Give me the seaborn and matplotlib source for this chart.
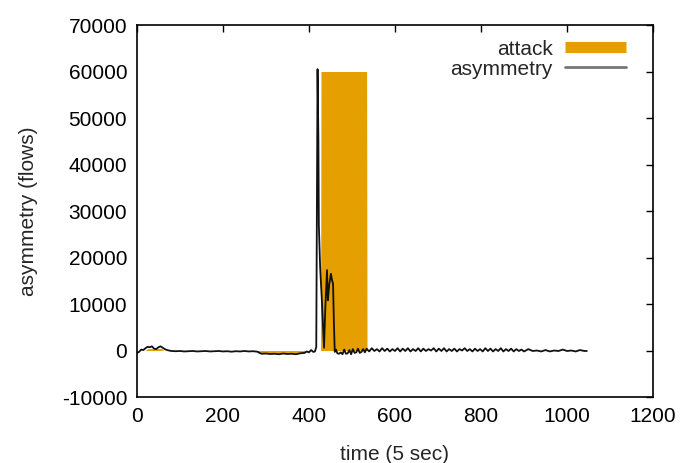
import matplotlib
matplotlib.use("Agg")
import matplotlib.pyplot as plt
from matplotlib.lines import Line2D
import seaborn as sns
import pandas as pd

# ---- data ----
attack_t = [0, 20, 25, 58, 62, 280, 282, 388, 392, 427, 428, 534, 535, 1045]
attack_v = [0, 0, 400, 400, 0, 0, -600, -600, 0, 0, 60000, 60000, 0, 0]

# asymmetry, in segments (time, value)
seg_a_t = [0, 5, 10, 15, 20, 25, 30, 35, 40, 45, 50, 55, 60, 65, 70]
seg_a_v = [-500, -300, 200, 100, 500, 800, 700, 900, 400, 300, 700, 900, 600, 300, 100]

seg_b_t = [80, 90, 100, 110, 120, 130, 140, 150, 160, 170, 180, 190, 200, 210, 220,
           230, 240, 250, 260, 270, 280]
seg_b_v = [-100, -150, -100, -200, -150, -100, -200, -150, -100, -200, -150, -100,
           -200, -150, -250, -150, -200, -100, -200, -150, -250]

seg_c_t = [285, 290, 300, 310, 320, 330, 340, 350, 360, 370, 380, 390]
seg_c_v = [-500, -700, -650, -750, -700, -800, -650, -750, -700, -800, -600, -500]

seg_d_t = [395, 400, 405, 410, 414, 417, 420, 422, 423, 426, 430, 435, 438, 442, 444,
           447, 451, 454, 456, 458, 460]
seg_d_v = [-200, -400, 100, -300, -200, 800, 60500, 45000, 27000, 18000, 10800, 600,
           9000, 17300, 10800, 14000, 16500, 15000, 14400, 6000, -300]

seg_e_t = [463, 466, 470, 474, 478, 482, 486, 490, 494, 498, 502, 506, 510, 514, 518,
           522, 526, 530, 534]
seg_e_v = [200, -600, -700, -400, -800, 200, -700, -600, 100, -800, 300, -500, -400,
           400, -500, -300, 300, -400, 400]

seg_f_t = list(range(540, 901, 6))
seg_f_v = [-200, 500, -100, 300, -200, 500, -100, 400, -200, 300,
           -100, 500, -200, 400, -100, 500, -200, 300, -100, 500,
           -200, 400, -100, 300, 0, 500, -200, 400, -100, 500,
           -200, 300, -100, 400, -200, 300, 0, 500, -100, 300,
           -200, 400, -100, 300, -200, 500, -100, 400, -200, 300,
           -100, 500, -200, 300, -100, 400, -200, 300, -100, 200,
           -200]

seg_g_t = [910, 920, 930, 940, 950, 960, 970, 980, 990, 1000, 1010, 1020, 1030, 1040, 1046]
seg_g_v = [300, -100, 0, -200, 100, -200, 0, -100, 200, -100, 0, -200, 100, -100, -100]

asym_t = seg_a_t + seg_b_t + seg_c_t + seg_d_t + seg_e_t + seg_f_t + seg_g_t
asym_v = seg_a_v + seg_b_v + seg_c_v + seg_d_v + seg_e_v + seg_f_v + seg_g_v

sns.set_theme(style="white")
plt.rcParams["font.family"] = ["Liberation Sans", "DejaVu Sans"]
plt.rcParams["axes.unicode_minus"] = False

fig = plt.figure(figsize=(6.81, 4.63), dpi=100)
ax = fig.add_axes([0.201, 0.1425, 0.758, 0.8035])

orange = "#E69F00"
ax.fill_between(attack_t, 0, attack_v, color=orange, linewidth=0, zorder=1)

df = pd.DataFrame({"time": asym_t, "asym": asym_v})
sns.lineplot(data=df, x="time", y="asym", ax=ax, color="#111111", linewidth=1.3,
             zorder=2)

ax.set_xlim(0, 1200)
ax.set_ylim(-10000, 70000)
ax.set_xticks(range(0, 1201, 200))
ax.set_yticks(range(-10000, 70001, 10000))
fs = 15
ax.tick_params(axis="both", direction="in", length=5, width=1, labelsize=fs,
               top=True, right=True, colors="black", pad=7)
for s in ax.spines.values():
    s.set_color("black")
    s.set_linewidth(1.2)
ax.set_xlabel("time (5 sec)", fontsize=fs, labelpad=14)
ax.set_ylabel("asymmetry (flows)", fontsize=fs, labelpad=17)

handles = [Line2D([0], [0], color=orange, lw=8, solid_capstyle="butt"),
           Line2D([0], [0], color="#777777", lw=2)]
ax.legend(handles, ["attack", "asymmetry"], loc="upper right",
          bbox_to_anchor=(0.975, 1.0), frameon=False,
          markerfirst=False, fontsize=fs, handlelength=2.9, borderaxespad=0.3,
          labelspacing=0.05, handletextpad=0.6)

fig.savefig("out.png", dpi=100)
